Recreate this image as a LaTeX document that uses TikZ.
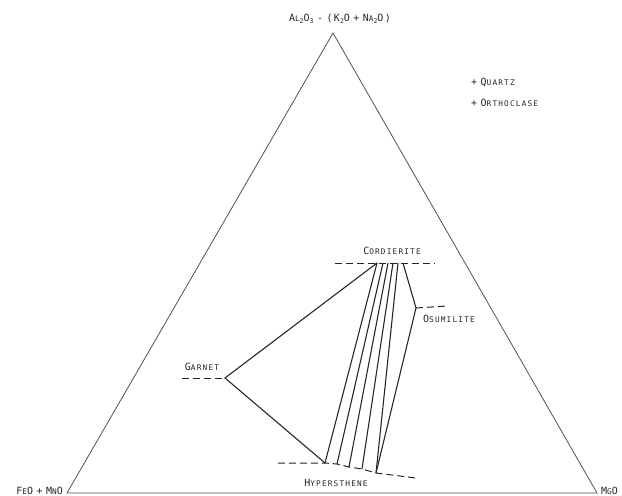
\documentclass[tikz,border=0pt]{standalone}
\usepackage{fontspec}
\usepackage{tikz}
\usetikzlibrary{positioning}
\newfontfamily\lett[LetterSpace=15]{DejaVu Sans Mono}
\definecolor{Ink}{HTML}{262626}
\definecolor{Edge}{HTML}{505050}
\newcommand{\caplbl}[2]{{\fontsize{10}{11}\selectfont #1}{\fontsize{7.8}{9}\selectfont #2}}
\newcommand{\lsub}[1]{\raisebox{-2pt}{\fontsize{6.5}{7}\selectfont #1}}
\newcommand{\gap}{\hspace{3.5pt}}
\tikzset{
  side/.style={draw=Edge,line width=0.8pt},
  tie/.style={draw=Ink,line width=1.1pt},
  phase/.style={draw=Ink,line width=1pt,dash pattern=on 7pt off 4pt},
  lbl/.style={font=\lett,text=Ink,inner sep=0pt}
}

\begin{document}
\begin{tikzpicture}[x=1bp,y=-1bp]
  \useasboundingbox (0,0) rectangle (622,496);
  % corners of the triangle
  \coordinate (top) at (333,33);
  \coordinate (feo) at (67,493);
  \coordinate (mgo) at (597,493);
  \draw[side] (top) -- (feo) -- (mgo) -- cycle;
  \node[lbl] (toplbl) at (340,19) {\caplbl{A}{L}\lsub{2}\caplbl{O}{}\lsub{3}\gap-\gap(\caplbl{K}{}\lsub{2}\caplbl{O}{}\gap+\gap\caplbl{N}{A}\lsub{2}\caplbl{O}{})};
  \node[lbl,anchor=base east] (feolbl) at (63,494) {\caplbl{F}{E}\caplbl{O}{}\gap+\gap\caplbl{M}{N}\caplbl{O}{}};
  \node[lbl,anchor=base west] (mgolbl) at (601,494) {\caplbl{M}{G}\caplbl{O}{}};
  \node[lbl,anchor=west] (qtz) at (471,82) {\caplbl{+}{}\gap\caplbl{Q}{UARTZ}};
  \node[lbl,anchor=west] (orth) at (471,103) {\caplbl{+}{}\gap\caplbl{O}{RTHOCLASE}};
  % phase points
  \coordinate (grt) at (225,378);
  \coordinate (osm) at (416,308);
  \coordinate (crd1) at (377,263);
  \coordinate (crd2) at (383,263);
  \coordinate (crd3) at (388,263);
  \coordinate (crd4) at (393,263);
  \coordinate (crd5) at (398,263);
  \coordinate (crd6) at (403,263);
  \coordinate (hyp1) at (325,463);
  \coordinate (hyp2) at (337,464);
  \coordinate (hyp3) at (349,467);
  \coordinate (hyp4) at (362,469);
  \coordinate (hyp5) at (376,473);
  % compositional ranges
  \draw[phase] (335,263) -- (435,263);
  \draw[phase] (182,378) -- (grt);
  \draw[phase] (osm) -- (447,306);
  \draw[phase] (278,463) -- (hyp1) -- (hyp2) -- (hyp3) -- (hyp4) -- (hyp5) -- (416,478);
  % tie lines
  \draw[tie] (crd1) -- (grt) -- (hyp1);
  \foreach \i in {1,...,5}
    \draw[tie] (crd\i) -- (hyp\i);
  \draw[tie] (crd6) -- (osm) -- (hyp5);
  \node[lbl] (crdlbl) at (392,251) {\caplbl{C}{ORDIERITE}};
  \node[lbl] (grtlbl) at (202,367) {\caplbl{G}{ARNET}};
  \node[lbl,anchor=west] (osmlbl) at (423,319) {\caplbl{O}{SUMILITE}};
  \node[lbl] (hyplbl) at (336,483) {\caplbl{H}{YPERSTHENE}};
\end{tikzpicture}
\end{document}
